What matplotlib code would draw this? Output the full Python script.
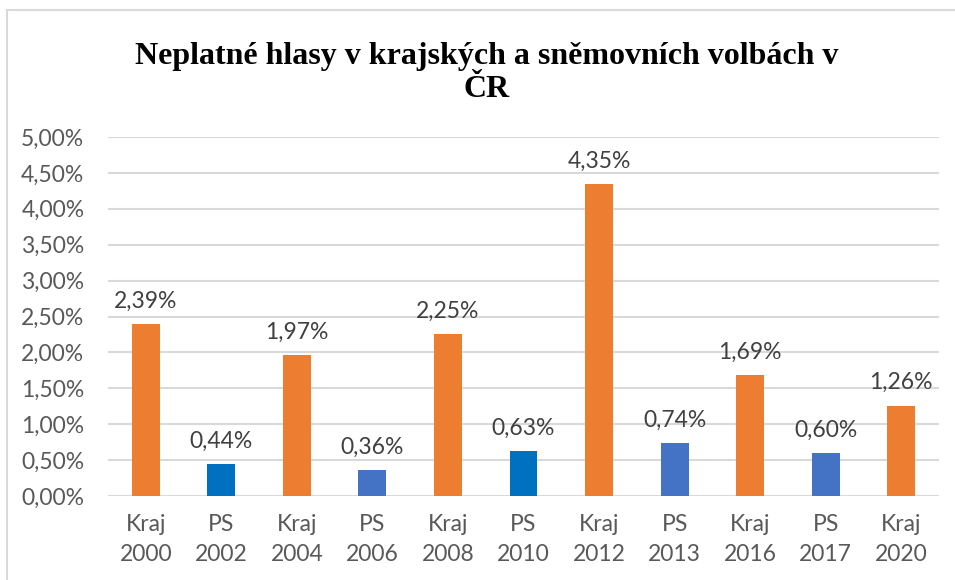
import matplotlib.pyplot as plt
from matplotlib.patches import Rectangle
from matplotlib.ticker import FuncFormatter

labels = ['Kraj\n2000', 'PS\n2002', 'Kraj\n2004', 'PS\n2006', 'Kraj\n2008', 'PS\n2010',
          'Kraj\n2012', 'PS\n2013', 'Kraj\n2016', 'PS\n2017', 'Kraj\n2020']
values = [2.39, 0.44, 1.97, 0.36, 2.25, 0.63, 4.35, 0.74, 1.69, 0.60, 1.26]
colors = ['#ED7D31', '#0070C0', '#ED7D31', '#4472C4', '#ED7D31', '#0070C0',
          '#ED7D31', '#4472C4', '#ED7D31', '#4472C4', '#ED7D31']

label_font = ['Lato', 'DejaVu Sans']

fig = plt.figure(figsize=(9.55, 5.8), dpi=100)
fig.patches.append(Rectangle((7 / 955, -0.1), 1.1, 1.1 - 10 / 580,
                             transform=fig.transFigure, fill=False,
                             edgecolor='#D9D9D9', linewidth=1.5))
ax = fig.add_axes([108 / 955, 1 - 496 / 580, (939 - 108) / 955, (496 - 137) / 580])

x = range(len(values))
ax.bar(x, values, width=0.37, color=colors, zorder=3)
for xi, v in zip(x, values):
    ax.text(xi, v + 0.17, f'{v:.2f}%'.replace('.', ','), ha='center', va='bottom',
            fontsize=16.5, color='#404040', family=label_font)

ax.set_xlim(-0.5, len(values) - 0.5)
ax.set_ylim(0, 5)
ax.set_yticks([i * 0.5 for i in range(11)])
ax.yaxis.set_major_formatter(FuncFormatter(lambda v, p: f'{v:.2f}%'.replace('.', ',')))
ax.set_xticks(list(x))
ax.set_xticklabels(labels)
ax.grid(axis='y', color='#D9D9D9', linewidth=1.5, zorder=0)
for s in ax.spines.values():
    s.set_visible(False)
ax.tick_params(length=0, labelsize=16.5, colors='#595959', pad=13)
ax.tick_params(axis='y', pad=17)
for t in ax.get_xticklabels() + ax.get_yticklabels():
    t.set_family(label_font)
    t.set_linespacing(1.55)

fig.text(487 / 955, 1 - 73 / 580,
         'Neplatné hlasy v krajských a sněmovních volbách v\nČR',
         ha='center', va='center', fontsize=23, fontweight='bold',
         family='Liberation Serif', linespacing=1.15)

fig.savefig('out.png', dpi=100)
